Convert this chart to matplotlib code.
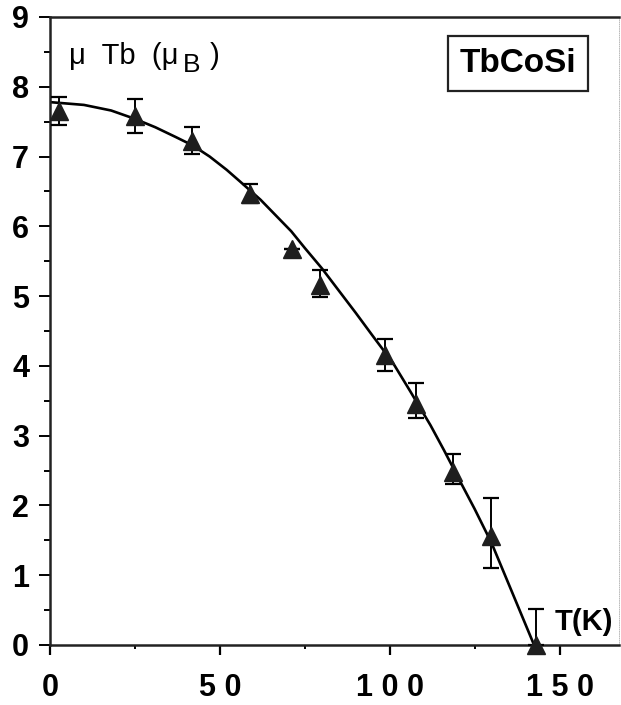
import matplotlib
matplotlib.use("Agg")
import matplotlib.pyplot as plt
from matplotlib.ticker import MultipleLocator

# valeurs
temp = [2.6, 25, 41.7, 58.8, 71.1, 79.4, 98.5, 107.8, 118.6, 129.9, 143]
moment = [7.65, 7.58, 7.22, 6.47, 5.67, 5.16, 4.15, 3.46, 2.48, 1.56, 0.0]
err_low = [0.2, 0.24, 0.19, 0.13, 0, 0.17, 0.22, 0.2, 0.17, 0.45, 0]
err_high = [0.2, 0.24, 0.2, 0.13, 0, 0.21, 0.23, 0.3, 0.26, 0.55, 0.52]

# courbe continue (points lus le long du trait)
curve_t = [0, 10, 18, 25, 31, 37, 42, 47, 52, 56, 62, 66, 71, 75, 80, 85,
           90, 95, 101, 106, 112, 116, 121, 125, 130, 136, 142.5]
curve_m = [7.78, 7.74, 7.66, 7.54, 7.42, 7.28, 7.16, 7.00, 6.81, 6.64, 6.38,
           6.18, 5.93, 5.69, 5.40, 5.08, 4.76, 4.43, 4.04, 3.64, 3.15, 2.79,
           2.32, 1.95, 1.46, 0.76, 0.0]

x_ticks = [0, 50, 100, 150]
x_labels = ['0', '5 0', '1 0 0', '1 5 0']
y_ticks = list(range(10))

plt.rcParams['font.family'] = ['Liberation Sans', 'DejaVu Sans']

W, H = 621, 705
fig = plt.figure(figsize=(W / 100, H / 100), dpi=100)
ax = fig.add_axes([50 / W, 1 - 645 / H, 569 / W, 628 / H])

ax.plot(curve_t, curve_m, color='black', lw=1.9, solid_capstyle='round')
ax.errorbar(temp, moment, yerr=[err_low, err_high], fmt='^', color='#1e1e1e',
            ms=13, ecolor='black', elinewidth=1.4, capsize=5.5, capthick=1.6,
            clip_on=False, zorder=3)

ax.set_xlim(0, 167.5)
ax.set_ylim(0, 9)
ax.set_xticks(x_ticks)
ax.set_xticklabels(x_labels)
ax.set_yticks(y_ticks)
ax.xaxis.set_minor_locator(MultipleLocator(25))
ax.yaxis.set_minor_locator(MultipleLocator(0.5))

ax.tick_params(axis='x', which='major', direction='out', length=7, width=1.6,
               pad=13, labelsize=22)
ax.tick_params(axis='x', which='minor', direction='out', length=3, width=1.4)
ax.tick_params(axis='y', which='major', direction='out', length=8, width=1.4,
               pad=7, labelsize=22)
ax.tick_params(axis='y', which='minor', direction='out', length=4, width=1.4)
for lab in ax.get_xticklabels() + ax.get_yticklabels():
    lab.set_fontweight('bold')

for side in ['left', 'bottom', 'top']:
    ax.spines[side].set_linewidth(1.8)
    ax.spines[side].set_color('#222222')
ax.spines['right'].set_linewidth(0.6)
ax.spines['right'].set_color('#b0b0b0')
ax.spines['right'].set_linestyle(':')

# étiquette de l'axe y : mu Tb (mu_B )
t1 = fig.text(69 / W, 1 - 64 / H, 'μ  Tb  (μ', fontsize=21, va='baseline')
fig.canvas.draw()
r = fig.canvas.get_renderer()
x1 = t1.get_window_extent(r).x1
t2 = fig.text((x1 + 4) / W, 1 - 72 / H, 'B', fontsize=19, va='baseline')
fig.canvas.draw()
x2 = t2.get_window_extent(r).x1
fig.text((x2 + 10) / W, 1 - 64 / H, ')', fontsize=21, va='baseline')

ax.text(0.822, 0.926, 'TbCoSi', transform=ax.transAxes, fontsize=24,
        fontweight='bold', ha='center', va='center',
        bbox=dict(boxstyle='square,pad=0.35', fc='white', ec='#222222', lw=1.6))
ax.text(148.5, 0.21, 'T(K)', fontsize=21, fontweight='bold', ha='left',
        va='baseline', clip_on=False)

fig.savefig('out.png', dpi=100)
